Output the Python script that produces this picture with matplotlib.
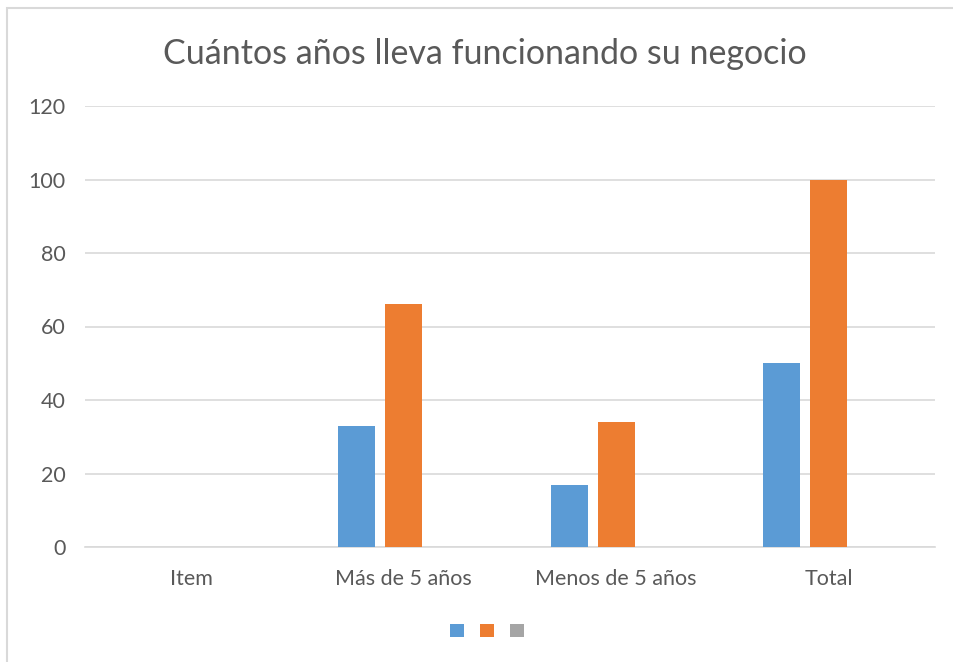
import matplotlib.pyplot as plt
import matplotlib.patches as patches
import numpy as np

categorias = ['Item', 'Más de 5 años', 'Menos de 5 años', 'Total']
serie1 = [0, 33, 17, 50]
serie2 = [0, 66, 34, 100]
serie3 = [0, 0, 0, 0]

plt.rcParams['font.family'] = ['Lato', 'DejaVu Sans']
gris_texto = '#595959'

fig = plt.figure(figsize=(9.54, 6.62), dpi=100)
ax = fig.add_axes([85/954, 1-547/662, 850/954, 441/662])

x = np.arange(len(categorias))
ancho = 0.174
paso = 0.221
ax.bar(x - paso, serie1, ancho, color='#5B9BD5', linewidth=0, label=' ', zorder=3)
ax.bar(x, serie2, ancho, color='#ED7D31', linewidth=0, label=' ', zorder=3)
ax.bar(x + paso, serie3, ancho, color='#A5A5A5', linewidth=0, label=' ', zorder=3)

ax.set_xlim(-0.5, 3.5)
ax.set_ylim(0, 120)
ax.set_yticks(range(0, 121, 20))
ax.set_xticks(x)
ax.set_xticklabels(categorias)
ax.yaxis.grid(True, color='#d9d9d9', linewidth=1.2, zorder=0)
ax.tick_params(length=0, labelsize=15.5, colors=gris_texto)
ax.tick_params(axis='y', pad=14)
ax.tick_params(axis='x', pad=15.5)
for s in ['top', 'right', 'left']:
    ax.spines[s].set_visible(False)
ax.spines['bottom'].set_color('#d9d9d9')
ax.spines['bottom'].set_linewidth(1.2)

fig.text(0.508, 0.918, 'Cuántos años lleva funcionando su negocio', ha='center', va='center',
         fontsize=24.5, color=gris_texto)

ley = fig.legend(loc='center', bbox_to_anchor=(0.512, 0.047), ncol=3, frameon=False,
                 handlelength=1, handleheight=1, handletextpad=0, columnspacing=0.9, fontsize=10)

# borde del grafico (solo se ve arriba e izquierda)
fig.patches.append(patches.Rectangle((7.5/954, -0.1), 1.2, 1 - 7.5/662 + 0.1, transform=fig.transFigure,
                                     fill=False, edgecolor='#d9d9d9', linewidth=1.5))

fig.savefig('out.png', dpi=100)
